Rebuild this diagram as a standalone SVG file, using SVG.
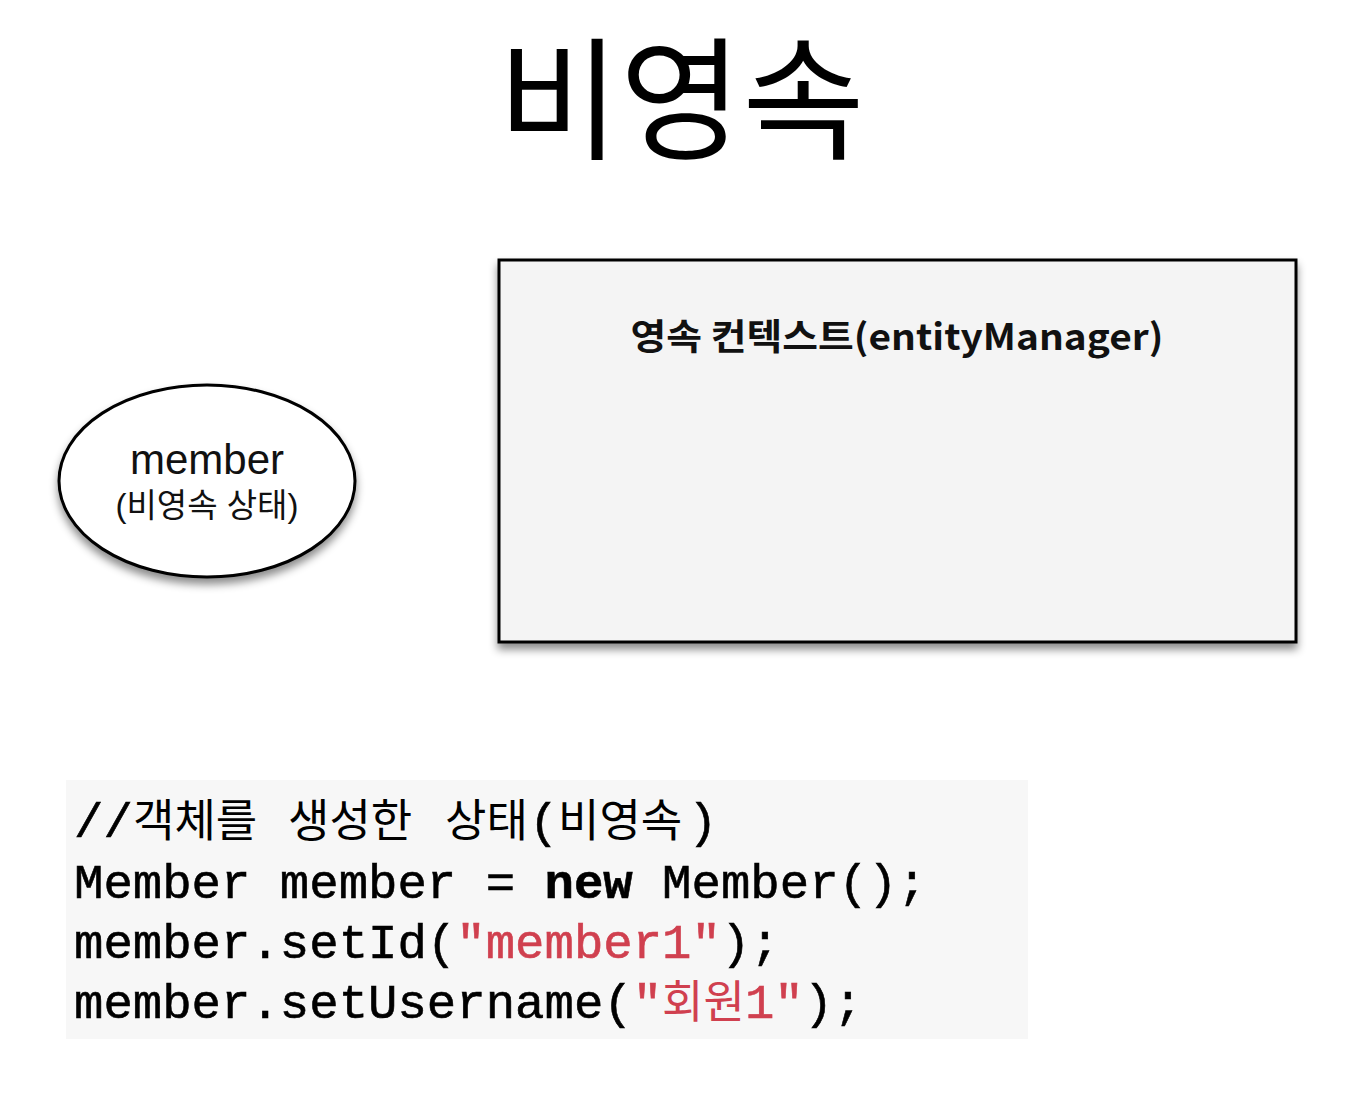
<svg xmlns="http://www.w3.org/2000/svg" width="1352" height="1116" viewBox="0 0 1352 1116">
<style>
.title{font-family:"Noto Sans CJK KR","Noto Sans",sans-serif;font-size:133px;fill:#000}
.lbl{font-family:"Liberation Sans","Noto Sans CJK KR",sans-serif;fill:#111}
.ctx{font-family:"Noto Sans CJK KR","Noto Sans",sans-serif;font-weight:bold;font-size:36px;fill:#111}
.code{font-family:"Liberation Mono","Noto Sans CJK KR",monospace;font-size:49px;fill:#000;stroke:#000;stroke-width:0.6}
.ko{font-family:"Noto Sans CJK KR",sans-serif;font-size:45px;stroke-width:0}
.str{fill:#d0404f;stroke:#d0404f}
</style>
<defs>
<filter id="sh" x="-20%" y="-20%" width="140%" height="150%">
<feDropShadow dx="0" dy="6" stdDeviation="4" flood-color="#000" flood-opacity="0.45"/>
</filter>
</defs>
<rect width="1352" height="1116" fill="#fff"/>
<text class="title" x="681" y="149" text-anchor="middle">비영속</text>
<g id="member">
<ellipse cx="207" cy="481" rx="148" ry="96" fill="#fff" stroke="#000" stroke-width="3" filter="url(#sh)"/>
<text class="lbl" x="207" y="474" text-anchor="middle" font-size="42">member</text>
<text class="lbl" x="207" y="517" text-anchor="middle" font-size="33">(비영속 상태)</text>
</g>
<g id="context">
<rect x="499" y="260" width="797" height="382" fill="#f4f4f4" stroke="#000" stroke-width="3" filter="url(#sh)"/>
<text class="ctx" x="897" y="350" text-anchor="middle" textLength="533" lengthAdjust="spacingAndGlyphs">영속 컨텍스트(entityManager)</text>
</g>
<g id="connectors"/>
<g id="code">
<rect x="66" y="780" width="962" height="259" fill="#f7f7f7"/>
<text class="code" y="837"><tspan x="74">//</tspan><tspan class="ko" x="133">객체를</tspan><tspan class="ko" x="288">생성한</tspan><tspan class="ko" x="445">상태</tspan><tspan x="529">(</tspan><tspan class="ko" x="558">비영속</tspan><tspan x="688">)</tspan></text>
<text class="code" x="74" y="898" xml:space="preserve">Member member = <tspan font-weight="bold">new</tspan> Member();</text>
<text class="code" x="74" y="958">member.setId(<tspan class="str">"member1"</tspan>);</text>
<text class="code" x="74" y="1018">member.setUsername(<tspan class="str">"<tspan class="ko" font-size="44">회원</tspan>1"</tspan>);</text>
</g>
</svg>
